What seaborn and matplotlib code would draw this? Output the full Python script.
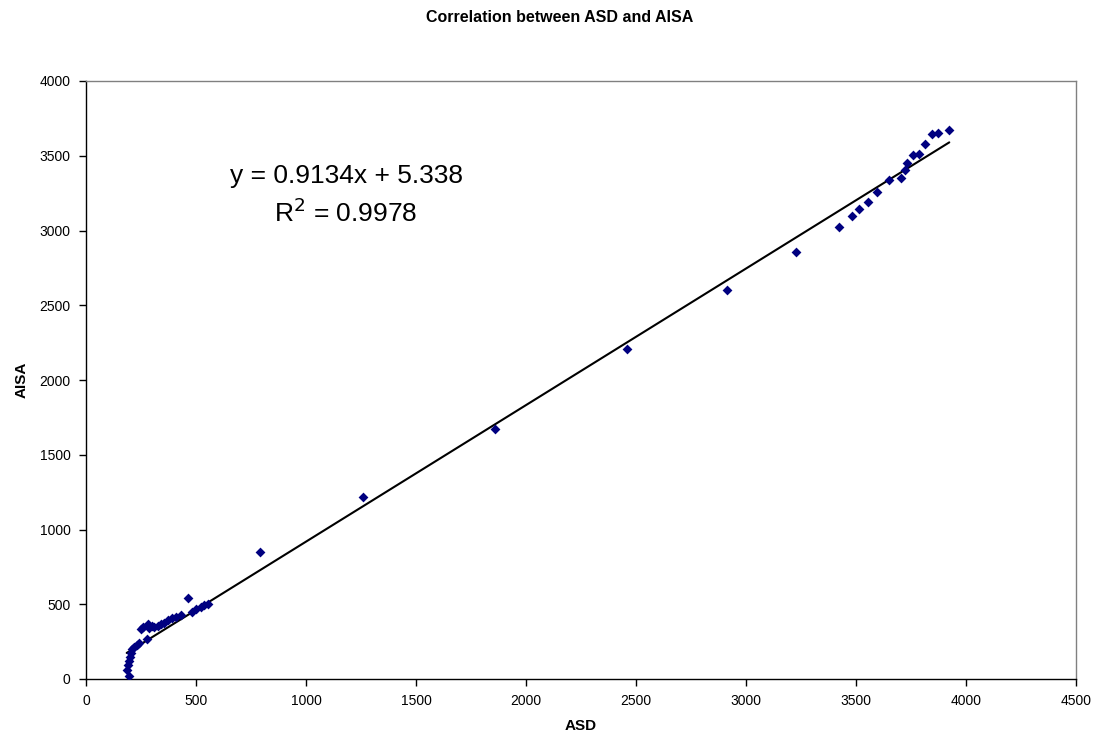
import numpy as np
import pandas as pd
import matplotlib
matplotlib.use("Agg")
import matplotlib.pyplot as plt
import seaborn as sns

# Data
asd = [197, 185, 189, 194, 198, 203, 209, 220, 230, 242,
       250, 261, 280, 288, 300, 276, 311, 326, 341, 356,
       371, 391, 409, 432, 462, 482, 500, 523, 538, 553,
       791, 1261, 1859, 2458, 2915,
       3227, 3424, 3480, 3512, 3556, 3597, 3650, 3703, 3724, 3733,
       3758, 3788, 3815, 3845, 3874, 3924]
aisa = [22, 60, 94, 123, 149, 176, 201, 216, 230, 243,
        334, 350, 368, 339, 355, 265, 346, 352, 368, 377,
        395, 406, 417, 428, 544, 448, 466, 479, 493, 502,
        847, 1215, 1670, 2207, 2602,
        2858, 3021, 3097, 3142, 3191, 3258, 3336, 3349, 3403, 3453,
        3505, 3512, 3579, 3645, 3654, 3672]
slope = 0.9134
intercept = 5.338
r2 = 0.9978
x_ticks = [0, 500, 1000, 1500, 2000, 2500, 3000, 3500, 4000, 4500]
y_ticks = [0, 500, 1000, 1500, 2000, 2500, 3000, 3500, 4000]

df = pd.DataFrame({"ASD": asd, "AISA": aisa})

sns.set_theme(style="white")
plt.rcParams['font.family'] = ['Liberation Sans', 'DejaVu Sans']
plt.rcParams['text.color'] = 'black'
plt.rcParams['axes.labelcolor'] = 'black'

fig = plt.figure(figsize=(10.98, 7.42), dpi=100)
ax = fig.add_axes([86/1098, 1 - 679/742, (1076-86)/1098, (679-81)/742])

sns.scatterplot(data=df, x="ASD", y="AISA", ax=ax, marker="D", s=25,
                color="#000080", edgecolor="#000080", linewidth=0, zorder=3)

xl = np.array([min(asd), max(asd)])
trend = pd.DataFrame({"x": xl, "y": slope * xl + intercept})
sns.lineplot(data=trend, x="x", y="y", ax=ax, color="black", linewidth=1.5, zorder=2)

ax.set_xlim(0, 4500)
ax.set_ylim(0, 4000)
ax.set_xticks(x_ticks)
ax.set_yticks(y_ticks)
ax.tick_params(axis='both', direction='out', length=5, width=1, colors='black',
               labelsize=10, bottom=True, left=True, pad=6)

for side in ['left', 'bottom']:
    ax.spines[side].set_color('black')
    ax.spines[side].set_linewidth(1)
for side in ['top', 'right']:
    ax.spines[side].set_color('#808080')
    ax.spines[side].set_linewidth(1)

ax.set_xlabel("ASD", fontsize=11, fontweight='bold', labelpad=8, color='black')
ax.set_ylabel("AISA", fontsize=11, fontweight='bold', labelpad=8, color='black')

fig.text(560/1098, 1 - 18/742, "Correlation between ASD and AISA",
         ha='center', va='center', fontsize=11.5, fontweight='bold', color='black')

ax.text(1182, 3365, f"y = {slope}x + {intercept}", ha='center', va='center',
        fontsize=19, color='black')
ax.text(1182, 3117, f"R$^2$ = {r2}", ha='center', va='center',
        fontsize=19, color='black')

fig.savefig("out.png", dpi=100)
